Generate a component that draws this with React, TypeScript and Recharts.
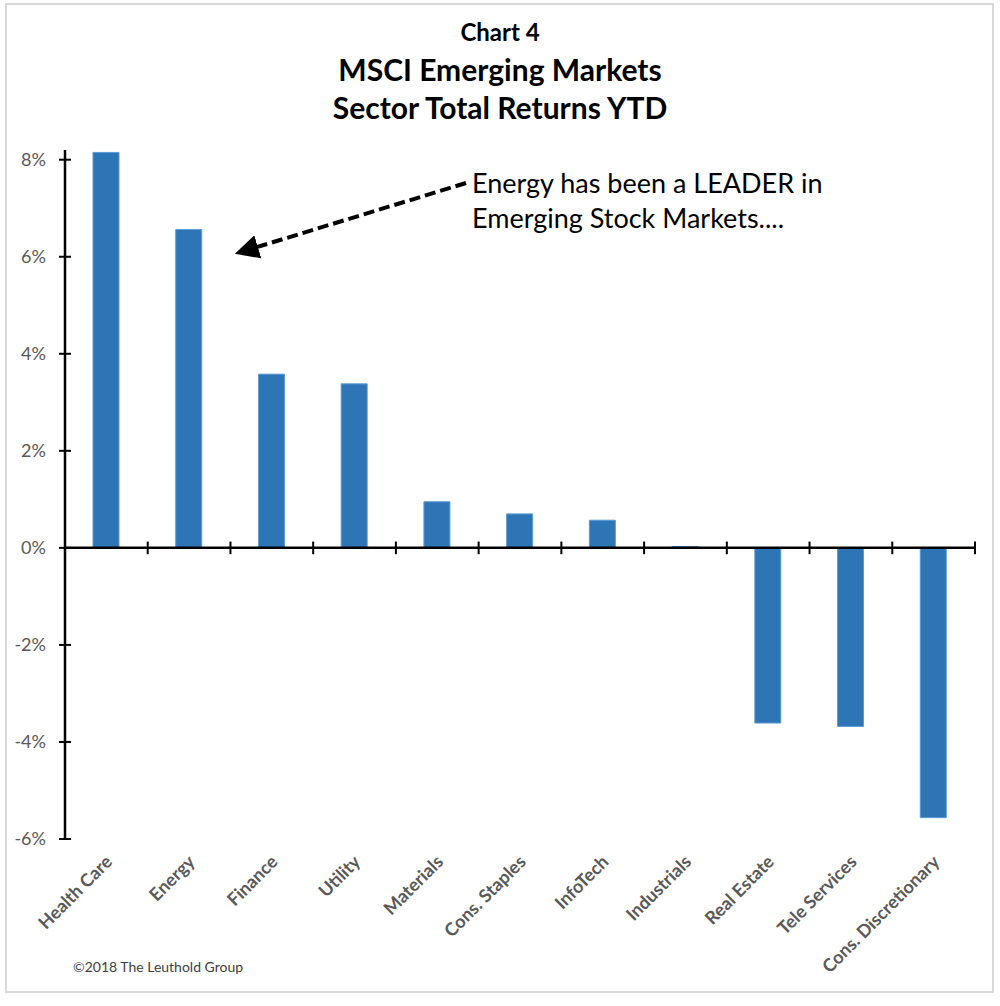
import React from 'react';
import { BarChart, Bar, XAxis, YAxis, ReferenceLine } from 'recharts';

const sectors = [
  'Health Care',
  'Energy',
  'Finance',
  'Utility',
  'Materials',
  'Cons. Staples',
  'InfoTech',
  'Industrials',
  'Real Estate',
  'Tele Services',
  'Cons. Discretionary',
];
const returnsYtd = [8.15, 6.56, 3.58, 3.38, 0.95, 0.7, 0.57, 0.03, -3.61, -3.68, -5.56];
const yTicks = [-6, -4, -2, 0, 2, 4, 6, 8];
// category boundaries on the zero line (index units)
const boundaries = [0.5, 1.5, 2.5, 3.5, 4.5, 5.5, 6.5, 7.5, 8.5, 9.5, 10.5];

const data = sectors.map((sector, i) => ({ sector, ret: returnsYtd[i], idx: i }));

const FONT = 'Lato, "Open Sans", sans-serif';

const YTick = (props: any) => {
  const { x, y, payload } = props;
  return (
    <g>
      <line x1={x - 6} x2={x + 6} y1={y} y2={y} stroke="#000" strokeWidth={2} />
      <text x={x - 19} y={y} dy={6} textAnchor="end" fill="#595959" fontSize={18} fontFamily={FONT}>
        {payload.value}%
      </text>
    </g>
  );
};

const XTick = (props: any) => {
  const { x, y, payload } = props;
  const tx = x + 7;
  const ty = y + 24;
  return (
    <text
      x={tx}
      y={ty}
      textAnchor="end"
      transform={`rotate(-45 ${tx} ${ty})`}
      fill="#595959"
      fontWeight={700}
      fontSize={18}
      fontFamily={FONT}
    >
      {payload.value}
    </text>
  );
};

export default function App() {
  return (
    <div style={{ position: 'absolute', left: 0, top: 0, width: 1000, height: 1006, background: '#fff', fontFamily: FONT }}>
      <div
        style={{
          position: 'absolute',
          left: 5,
          top: 3,
          width: 989,
          height: 990,
          boxSizing: 'border-box',
          border: '2px solid #d9d9d9',
        }}
      />
      <div style={{ position: 'absolute', left: 0, top: 13, width: 1000, textAlign: 'center', fontWeight: 'bold', color: '#000' }}>
        <div style={{ fontSize: 24, lineHeight: '37px' }}>Chart 4</div>
        <div style={{ fontSize: 30, lineHeight: '38px' }}>MSCI Emerging Markets</div>
        <div style={{ fontSize: 30, lineHeight: '38px' }}>Sector Total Returns YTD</div>
      </div>

      <div style={{ position: 'absolute', left: 0, top: 0 }}>
        <BarChart width={1000} height={1006} data={data} margin={{ top: 150, right: 25, bottom: 47, left: 0 }}>
          <XAxis
            dataKey="sector"
            interval={0}
            axisLine={false}
            tickLine={false}
            tickSize={0}
            tickMargin={0}
            height={120}
            tick={<XTick />}
          />
          <XAxis xAxisId="num" type="number" dataKey="idx" domain={[-0.5, 10.5]} hide allowDataOverflow />
          <YAxis
            width={65}
            domain={[-6, 8.2]}
            ticks={yTicks}
            interval={0}
            allowDataOverflow
            axisLine={{ stroke: '#000', strokeWidth: 2.5 }}
            tickLine={false}
            tickSize={0}
            tickMargin={0}
            tick={<YTick />}
          />
          <Bar dataKey="ret" fill="#2E75B6" stroke="#5B9BD5" strokeWidth={1} barSize={26} isAnimationActive={false} />
          <ReferenceLine y={0} stroke="#000" strokeWidth={2.5} />
          {boundaries.map((b) => (
            <ReferenceLine
              key={b}
              xAxisId="num"
              segment={[
                { x: b, y: -0.13 },
                { x: b, y: 0.13 },
              ]}
              stroke="#000"
              strokeWidth={2}
              ifOverflow="visible"
            />
          ))}
        </BarChart>
      </div>

      <svg style={{ position: 'absolute', left: 0, top: 0, pointerEvents: 'none' }} width={1000} height={1006}>
        <defs>
          <marker id="arrowHead" markerWidth="6" markerHeight="6" refX="1" refY="3" orient="auto" markerUnits="strokeWidth">
            <path d="M0,0 L6,3 L0,6 Z" fill="#000" />
          </marker>
        </defs>
        <line
          x1={466}
          y1={183}
          x2={254}
          y2={248}
          stroke="#000"
          strokeWidth={4}
          strokeDasharray="11 5"
          markerEnd="url(#arrowHead)"
        />
      </svg>

      <div
        style={{
          position: 'absolute',
          left: 472,
          top: 165,
          fontSize: 27,
          lineHeight: '35px',
          color: '#000',
        }}
      >
        Energy has been a LEADER in
        <br />
        Emerging Stock Markets....
      </div>

      <div style={{ position: 'absolute', left: 73, top: 958, fontSize: 14, color: '#404040' }}>©2018 The Leuthold Group</div>
    </div>
  );
}
